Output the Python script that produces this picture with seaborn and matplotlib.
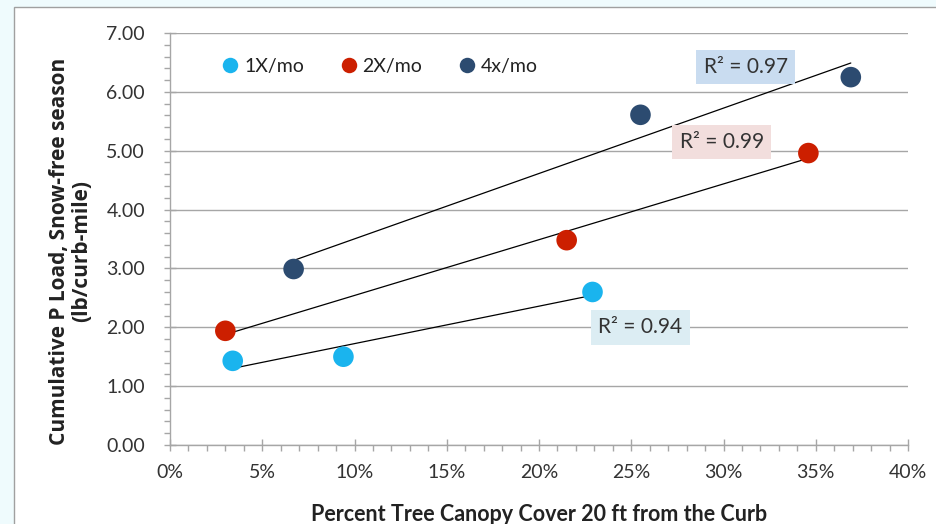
import numpy as np
import pandas as pd
import matplotlib
matplotlib.use("Agg")
import matplotlib.pyplot as plt
import seaborn as sns
from matplotlib.patches import Rectangle
from matplotlib.ticker import MultipleLocator, PercentFormatter

# Data
canopy_1x = [3.4, 9.4, 22.9]
load_1x = [1.43, 1.50, 2.60]
canopy_2x = [3.0, 21.5, 34.6]
load_2x = [1.94, 3.48, 4.96]
canopy_4x = [6.7, 25.5, 36.9]
load_4x = [2.99, 5.61, 6.25]

series_names = ["1X/mo", "2X/mo", "4x/mo"]
series_colors = ["#1ab4ee", "#cc1f00", "#2c4b70"]
r2_labels = ["R² = 0.94", "R² = 0.99", "R² = 0.97"]
r2_pos = [(25.5, 2.0), (29.9, 5.15), (31.2, 6.42)]
r2_box = ["#dcedf3", "#f2dedd", "#c9dcf0"]

df = pd.DataFrame({
    "canopy": canopy_1x + canopy_2x + canopy_4x,
    "load": load_1x + load_2x + load_4x,
    "freq": [series_names[0]] * 3 + [series_names[1]] * 3 + [series_names[2]] * 3,
})

sns.set_theme(style="white")
plt.rcParams["font.family"] = ["Lato", "DejaVu Sans"]

fig = plt.figure(figsize=(9.37, 5.24), dpi=100)
fig.patch.set_facecolor("#effbfd")
# white chart panel with thin grey border
fig.patches.append(Rectangle((14 / 937, -0.01), 1.0, 1 - 7 / 524 + 0.01,
                             transform=fig.transFigure, facecolor="white",
                             edgecolor="#a0a0a0", linewidth=1.0, zorder=-10))

ax = fig.add_axes([170 / 937, 1 - 445 / 524, (908 - 170) / 937, (445 - 33) / 524])
ax.set_facecolor("none")

# trend lines over each series' range
for name in series_names:
    sub = df[df["freq"] == name]
    sns.regplot(data=sub, x="canopy", y="load", ax=ax, scatter=False, ci=None,
                truncate=True, color="black", line_kws={"linewidth": 0.9, "zorder": 3})

sns.scatterplot(data=df, x="canopy", y="load", hue="freq", palette=series_colors,
                hue_order=series_names, s=220, edgecolor="none", ax=ax, zorder=4)

for lab, (xx, yy), bc in zip(r2_labels, r2_pos, r2_box):
    ax.text(xx, yy, lab, ha="center", va="center", fontsize=15, color="#333333",
            bbox=dict(boxstyle="square,pad=0.35", facecolor=bc, edgecolor="none"), zorder=5)

ax.set_xlim(0, 40)
ax.set_ylim(0, 7)
ax.xaxis.set_major_locator(MultipleLocator(5))
ax.xaxis.set_minor_locator(MultipleLocator(1))
ax.xaxis.set_major_formatter(PercentFormatter(decimals=0))
ax.yaxis.set_major_locator(MultipleLocator(1))
ax.yaxis.set_minor_locator(MultipleLocator(0.2))
ax.yaxis.set_major_formatter(lambda v, p: f"{v:.2f}")

ax.grid(axis="y", color="#a6a6a6", linewidth=1.0)
ax.set_axisbelow(True)
for s in ["top", "right"]:
    ax.spines[s].set_visible(False)
for s in ["left", "bottom"]:
    ax.spines[s].set_color("#a6a6a6")
    ax.spines[s].set_linewidth(1.0)

ax.tick_params(axis="both", which="major", direction="inout", length=8, width=1,
               color="#a6a6a6", labelsize=14, labelcolor="#333333", bottom=True, left=True)
ax.tick_params(axis="both", which="minor", direction="out", length=4, width=1,
               color="#a6a6a6", bottom=True, left=True)
ax.tick_params(axis="x", which="major", pad=10)
ax.tick_params(axis="y", which="major", pad=14)

ax.set_xlabel("Percent Tree Canopy Cover 20 ft from the Curb", fontsize=15.5,
              fontweight="bold", color="#222222", labelpad=16)
ax.set_ylabel("Cumulative P Load, Snow-free season\n(lb/curb-mile)", fontsize=15,
              fontweight="bold", color="#222222", linespacing=1.1,
              family=["Open Sans", "DejaVu Sans"])
ax.yaxis.set_label_coords(-0.105, 0.47)

leg = ax.legend(loc="center left", bbox_to_anchor=(0.045, 0.918), ncol=3, frameon=False,
                fontsize=14, handletextpad=-0.3, columnspacing=1.3, markerscale=0.75,
                borderaxespad=0.0)
for t in leg.get_texts():
    t.set_color("#222222")

fig.savefig("out.png", dpi=100, facecolor=fig.get_facecolor())
